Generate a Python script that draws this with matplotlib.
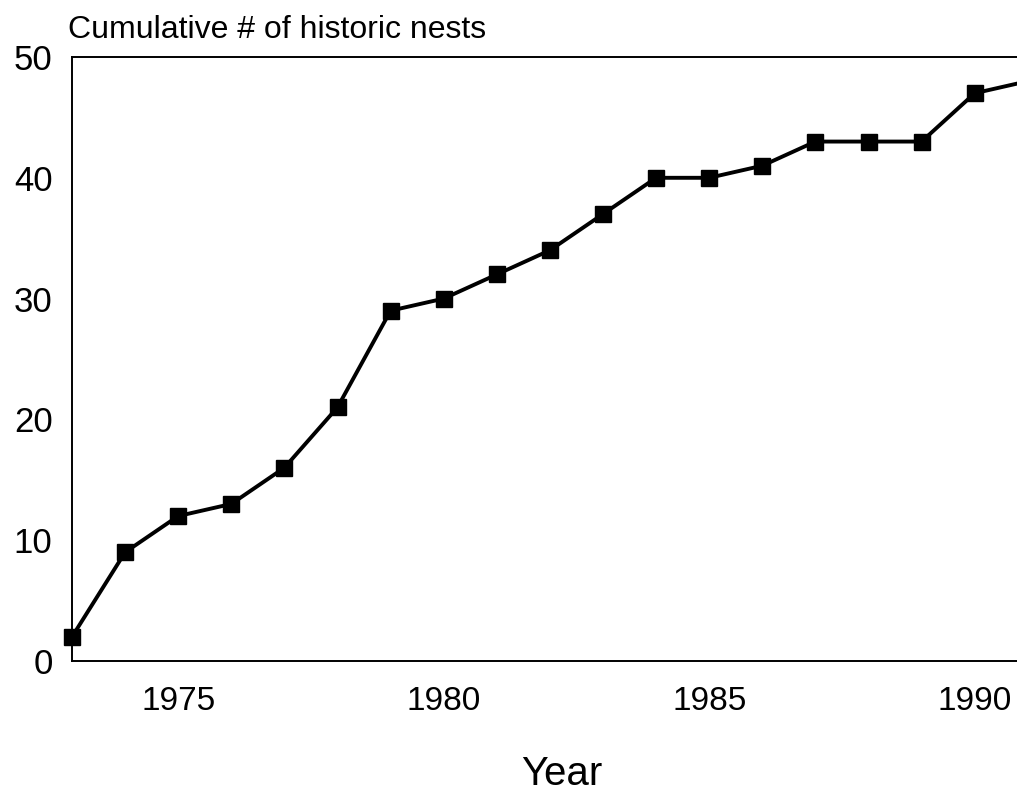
import matplotlib
matplotlib.use("Agg")
import matplotlib.pyplot as plt
from matplotlib import font_manager

years = [1973, 1974, 1975, 1976, 1977, 1978, 1979, 1980, 1981, 1982,
         1983, 1984, 1985, 1986, 1987, 1988, 1989, 1990, 1991]
nests = [2, 9, 12, 13, 16, 21, 29, 30, 32, 34,
         37, 40, 40, 41, 43, 43, 43, 47, 48]
xticks = [1975, 1980, 1985, 1990]
yticks = [0, 10, 20, 30, 40, 50]

names = {f.name for f in font_manager.fontManager.ttflist}
fam = "Liberation Sans Narrow" if "Liberation Sans Narrow" in names else "Liberation Sans"
plt.rcParams['font.family'] = [fam, 'DejaVu Sans']

W, H = 1017, 793
fig = plt.figure(figsize=(W / 100, H / 100), dpi=100)
ax = fig.add_axes([72 / W, (H - 661) / H, 1 - 72 / W, (661 - 57) / H])

ax.plot(years, nests, color='black', lw=2.8, marker='s', markersize=11,
        markerfacecolor='black', markeredgecolor='black', clip_on=False)

ax.set_xlim(1973, 1973 + (W - 72) / 53.1)
ax.set_ylim(0, 50)
ax.set_xticks(xticks)
ax.set_yticks(yticks)
ax.tick_params(length=0, labelsize=25)
ax.tick_params(axis='x', pad=18, labelsize=24)
ax.tick_params(axis='y', pad=14)
for s in ['left', 'bottom', 'top']:
    ax.spines[s].set_linewidth(1.4)
ax.spines['right'].set_visible(False)

fig.text(68 / W, 1 - 38 / H, "Cumulative # of historic nests", fontsize=23,
         ha='left', va='baseline')
fig.text(562 / W, 1 - 785 / H, "Year", fontsize=29, ha='center', va='baseline')

fig.savefig("out.png", dpi=100)
